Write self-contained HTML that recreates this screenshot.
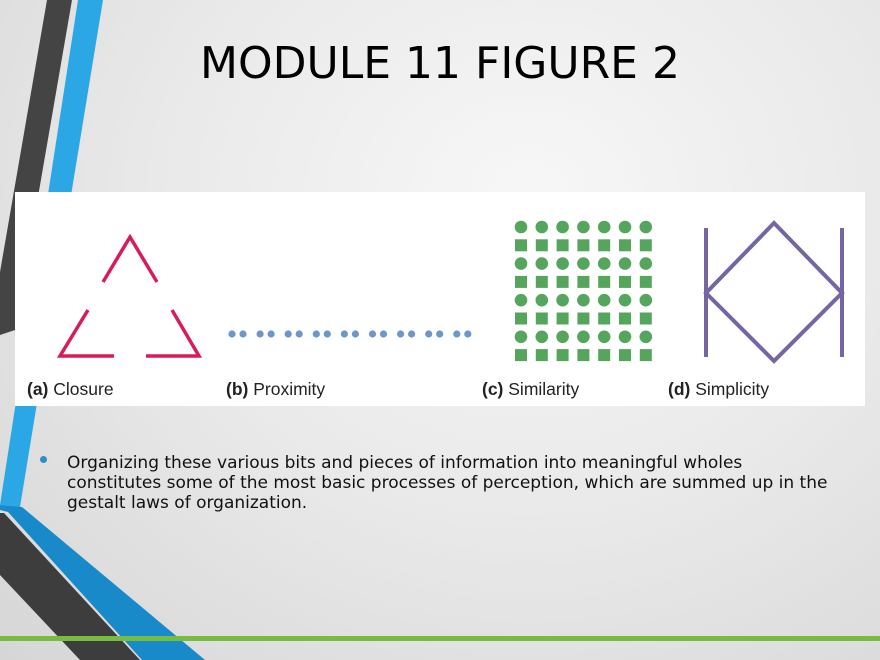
<!DOCTYPE html>
<html><head><meta charset="utf-8"><style>
html,body{margin:0;padding:0}
body{width:880px;height:660px;overflow:hidden;position:relative;background:radial-gradient(ellipse at 60% 30%,#f7f7f7 0%,#e9e9e9 50%,#d6d6d6 100%);font-family:"DejaVu Sans","Liberation Sans",sans-serif}
svg{position:absolute;left:0;top:0}
.t{position:absolute;left:0;width:880px;text-align:center;top:38px;font-size:44px;color:#000}
.b{position:absolute;left:67px;top:453px;width:800px;font-size:17px;line-height:20px;color:#111;white-space:nowrap}
.dot{position:absolute;left:40px;top:456px;width:7px;height:7px;border-radius:50%;background:#2a8fd0}
</style></head><body>
<svg width="880" height="660">
<polygon points="47,0 72,0 15,330 0,335 0,272" fill="#444"/>
<polygon points="78,0 103,0 20,507 0,505" fill="#2ba7e6"/>
<polygon points="0,513 4,513 140,660 80,660 0,575" fill="#3d3d3d"/>
<polygon points="0,505 22,507 205,660 142,660 8,512 0,510" fill="#1889c9"/>
<rect x="0" y="636" width="880" height="5" fill="#76bc43"/>
<rect x="15" y="192" width="850" height="214" fill="#fff"/>
<g stroke="#d81b5c" stroke-width="3.5" fill="none" stroke-linecap="butt">
<polyline points="103,282 130,237 157,282"/>
<polyline points="88,310 60,356 114,356"/>
<polyline points="172,310 199,356 146,356"/>
</g>
<g fill="#6e97c9" id="px"></g>
<g fill="#55a65c" id="sim"></g>
<g stroke="#7565a5" stroke-width="4" fill="none">
<line x1="706" y1="228" x2="706" y2="357"/>
<line x1="842" y1="228" x2="842" y2="357"/>
<polygon points="774,223 842,293 774,361 706,293"/>
</g>
<g font-family="'Liberation Sans',sans-serif" font-size="17.5" fill="#222">
<text x="27" y="395"><tspan font-weight="bold">(a)</tspan> Closure</text>
<text x="226" y="395"><tspan font-weight="bold">(b)</tspan> Proximity</text>
<text x="482" y="395"><tspan font-weight="bold">(c)</tspan> Similarity</text>
<text x="668" y="395"><tspan font-weight="bold">(d)</tspan> Simplicity</text>
</g>
</svg>
<div class="t">MODULE 11 FIGURE 2</div>
<div class="dot"></div>
<div class="b">Organizing these various bits and pieces of information into meaningful wholes<br>constitutes some of the most basic processes of perception, which are summed up in the<br>gestalt laws of organization.</div>
<script>
var ns="http://www.w3.org/2000/svg",px=document.getElementById("px"),sim=document.getElementById("sim");
for(var i=0;i<9;i++){[0,11].forEach(function(o){var c=document.createElementNS(ns,"circle");c.setAttribute("cx",232+i*28.1+o);c.setAttribute("cy",334);c.setAttribute("r",3.6);px.appendChild(c);});}
for(var r=0;r<8;r++)for(var k=0;k<7;k++){var x=521+k*20.8,y=227+r*18.3,e;
if(r%2==0){e=document.createElementNS(ns,"circle");e.setAttribute("cx",x);e.setAttribute("cy",y);e.setAttribute("r",6.3);}
else{e=document.createElementNS(ns,"rect");e.setAttribute("x",x-6);e.setAttribute("y",y-6);e.setAttribute("width",12);e.setAttribute("height",12);}
sim.appendChild(e);}
</script>
</body></html>
